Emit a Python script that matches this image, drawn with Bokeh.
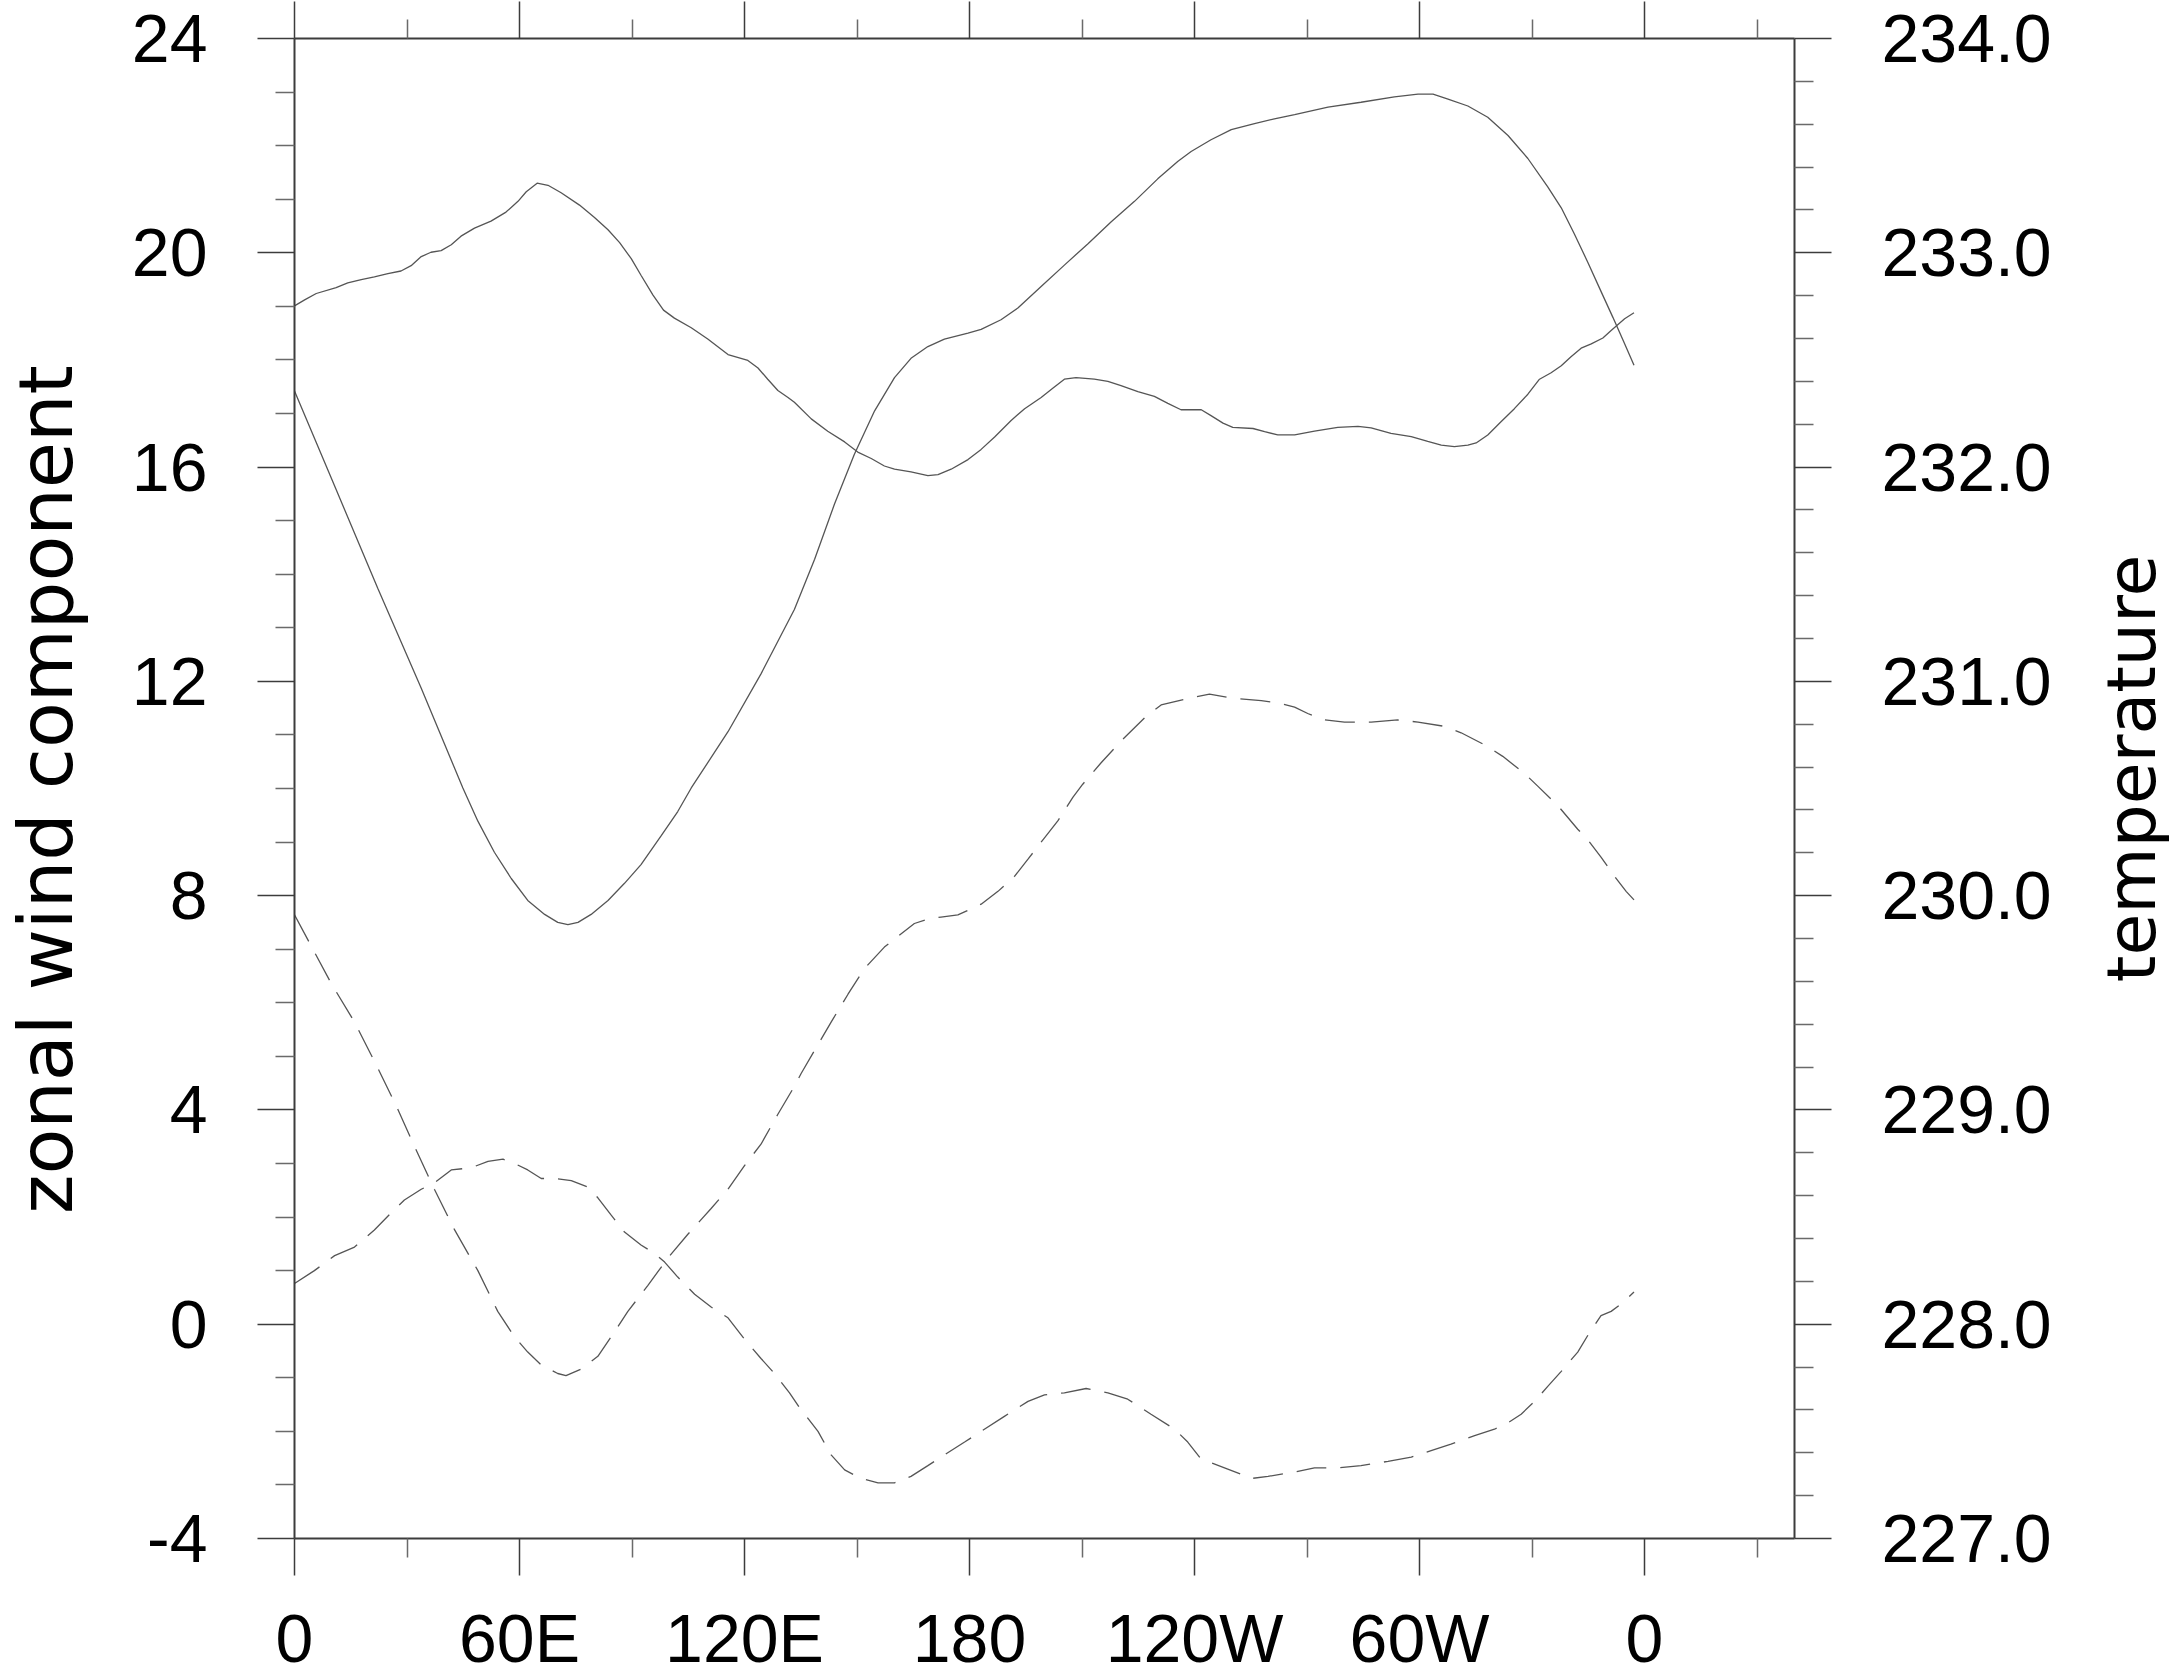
import numpy as np
from bokeh.plotting import figure
from bokeh.models import LinearAxis, Range1d, FixedTicker, Label
from bokeh.layouts import row
from bokeh.embed import file_html
from bokeh.resources import INLINE

# ---------------- data ----------------
# zonal wind, curve 1 (solid, starts near 19)
lon_u1 = [0, 2.7, 5.8, 11.1, 14.2, 17.8, 21.3, 24.9, 28.4, 31.1, 33.8, 36.4, 39.1, 41.8,
          44.4, 48.0, 52.4, 56.4, 59.6, 61.8, 64.7, 67.6, 71.1, 76.0, 80.0, 83.6, 86.7,
          89.8, 92.4, 95.6, 98.4, 101.3, 105.8, 110.2, 115.6, 120.9, 123.6, 126.2, 128.9,
          131.6, 133.3, 137.8, 142.2, 146.7, 150.2, 153.8, 157.3, 160.0, 164.4, 168.9,
          171.6, 175.1, 179.6, 183.1, 186.7, 191.1, 194.7, 199.1, 202.2, 205.3, 208.4,
          213.3, 216.9, 220.4, 224.9, 229.3, 232.9, 236.4, 241.8, 244.4, 247.6, 250.2,
          255.6, 258.7, 262.2, 266.7, 272.0, 278.2, 283.6, 287.1, 292.4, 297.8, 302.2,
          305.8, 309.3, 312.9, 315.1, 318.2, 321.8, 325.3, 328.9, 332.0, 335.1, 337.8,
          340.4, 343.1, 345.8, 348.9, 351.1, 354.7, 357.2]
u1 = [19.01, 19.12, 19.24, 19.35, 19.44, 19.50, 19.55, 19.61, 19.66, 19.76, 19.93, 20.01,
      20.04, 20.15, 20.31, 20.46, 20.59, 20.76, 20.96, 21.14, 21.30, 21.26, 21.12, 20.89,
      20.66, 20.43, 20.19, 19.89, 19.58, 19.21, 18.93, 18.78, 18.60, 18.39, 18.10, 17.99,
      17.85, 17.64, 17.43, 17.30, 17.21, 16.90, 16.67, 16.47, 16.28, 16.16, 16.02, 15.96,
      15.91, 15.84, 15.86, 15.96, 16.14, 16.33, 16.56, 16.87, 17.09, 17.30, 17.47, 17.64,
      17.67, 17.64, 17.60, 17.52, 17.41, 17.32, 17.19, 17.07, 17.07, 16.96, 16.82, 16.74,
      16.72, 16.66, 16.60, 16.60, 16.67, 16.74, 16.76, 16.73, 16.63, 16.57, 16.48, 16.41,
      16.38, 16.41, 16.45, 16.60, 16.85, 17.09, 17.36, 17.64, 17.76, 17.89, 18.06, 18.22,
      18.30, 18.41, 18.55, 18.77, 18.88]

# zonal wind, curve 2 (solid, deep minimum near 70E)
lon_u2 = [0, 11.1, 22.2, 33.8, 44.9, 48.9, 53.3, 57.8, 62.2, 66.7, 70.2, 72.9, 75.6, 79.1,
          83.6, 88.0, 92.4, 97.8, 102.2, 105.8, 115.6, 124.4, 133.3, 138.7, 144.0, 149.3,
          154.7, 160.0, 164.4, 168.9, 173.3, 179.6, 183.1, 188.4, 192.9, 199.1, 205.3,
          211.6, 217.8, 224.0, 230.2, 235.6, 239.1, 244.4, 249.8, 256.0, 261.3, 266.7,
          275.6, 284.4, 293.3, 299.6, 303.6, 307.6, 312.9, 318.2, 323.6, 328.9, 334.2,
          337.8, 341.3, 344.9, 348.4, 351.6, 354.7, 357.2]
u2 = [17.42, 15.58, 13.74, 11.87, 10.01, 9.39, 8.81, 8.32, 7.91, 7.65, 7.50, 7.46, 7.50,
      7.65, 7.91, 8.23, 8.58, 9.12, 9.57, 10.01, 11.06, 12.14, 13.34, 14.28, 15.31, 16.24,
      17.05, 17.67, 18.03, 18.25, 18.39, 18.50, 18.57, 18.75, 18.97, 19.37, 19.77, 20.17,
      20.58, 20.96, 21.38, 21.71, 21.89, 22.11, 22.30, 22.41, 22.50, 22.58, 22.72, 22.81,
      22.91, 22.96, 22.96, 22.87, 22.74, 22.53, 22.19, 21.76, 21.23, 20.84, 20.35, 19.82,
      19.28, 18.79, 18.30, 17.90]

# temperature, curve 1 (dashed, starts near 229.9)
lon_t1 = [0, 4.0, 9.8, 16.0, 21.8, 27.1, 32.0, 37.3, 42.7, 48.9, 54.2, 58.7, 62.2, 65.8,
          70.2, 72.4, 76.4, 80.9, 84.4, 88.9, 94.2, 99.6, 104.9, 111.1, 115.6, 120.0,
          124.4, 128.9, 133.3, 135.1, 139.1, 143.1, 147.6, 152.0, 157.3, 160.9, 165.3,
          168.9, 172.4, 176.9, 183.1, 187.6, 192.0, 195.6, 200.0, 203.6, 207.6, 210.2,
          215.1, 220.9, 226.7, 231.1, 238.2, 244.0, 250.7, 257.8, 262.2, 266.7, 270.2,
          274.7, 280.0, 287.1, 294.2, 299.6, 306.7, 311.1, 317.8, 322.2, 328.0, 331.6,
          336.9, 342.2, 344.9, 348.4, 352.0, 355.1, 357.2]
t1 = [229.91, 229.78, 229.59, 229.41, 229.21, 229.02, 228.83, 228.63, 228.44, 228.25,
      228.06, 227.94, 227.87, 227.81, 227.77, 227.76, 227.79, 227.85, 227.94, 228.06,
      228.18, 228.31, 228.42, 228.54, 228.63, 228.74, 228.84, 228.98, 229.11, 229.17,
      229.29, 229.41, 229.54, 229.66, 229.76, 229.81, 229.87, 229.89, 229.90, 229.91,
      229.96, 230.02, 230.09, 230.17, 230.27, 230.35, 230.46, 230.52, 230.62, 230.73,
      230.83, 230.89, 230.92, 230.94, 230.92, 230.91, 230.90, 230.88, 230.85, 230.82,
      230.81, 230.81, 230.82, 230.81, 230.79, 230.76, 230.70, 230.65, 230.57, 230.51,
      230.42, 230.31, 230.26, 230.18, 230.09, 230.02, 229.98]

# temperature, curve 2 (dashed, starts near 228.2)
lon_t2 = [0, 5.3, 10.7, 16.0, 21.3, 25.8, 29.3, 33.8, 37.3, 41.8, 47.1, 51.6, 55.6, 58.7,
          62.2, 65.8, 69.3, 73.8, 78.2, 80.9, 84.4, 88.0, 92.4, 96.0, 98.7, 102.2, 106.7,
          111.1, 115.6, 120.0, 124.4, 128.0, 132.0, 134.7, 139.6, 143.1, 146.7, 151.1,
          155.6, 160.0, 164.4, 168.9, 174.2, 178.7, 183.1, 189.3, 195.6, 200.0, 205.3,
          211.1, 216.9, 222.2, 228.4, 234.7, 238.2, 241.8, 248.0, 252.4, 255.1, 259.6,
          266.7, 272.0, 278.2, 284.4, 291.6, 297.8, 303.1, 308.4, 314.7, 320.0, 323.6,
          327.1, 330.7, 334.2, 337.8, 342.2, 345.3, 348.4, 351.1, 354.2, 357.2]
t2 = [228.19, 228.25, 228.32, 228.36, 228.44, 228.52, 228.58, 228.63, 228.66, 228.72,
      228.73, 228.76, 228.77, 228.75, 228.72, 228.68, 228.68, 228.67, 228.64, 228.59,
      228.51, 228.43, 228.37, 228.33, 228.29, 228.22, 228.14, 228.08, 228.03, 227.93,
      227.84, 227.77, 227.68, 227.61, 227.50, 227.39, 227.32, 227.28, 227.26, 227.26,
      227.29, 227.34, 227.40, 227.45, 227.50, 227.57, 227.64, 227.67, 227.68, 227.70,
      227.68, 227.65, 227.58, 227.51, 227.45, 227.37, 227.33, 227.30, 227.28, 227.29,
      227.31, 227.33, 227.33, 227.34, 227.36, 227.38, 227.41, 227.44, 227.48, 227.51,
      227.54, 227.58, 227.64, 227.71, 227.78, 227.87, 227.96, 228.04, 228.06, 228.10,
      228.15]

x_ticks = [0, 60, 120, 180, 240, 300, 360]
x_tick_labels = ["0", "60E", "120E", "180", "120W", "60W", "0"]
x_minor = [30, 90, 150, 210, 270, 330, 390]
u_ticks = [-4, 0, 4, 8, 12, 16, 20, 24]
u_tick_labels = ["-4", "0", "4", "8", "12", "16", "20", "24"]
u_minor = [v for v in range(-4, 25) if v % 4 != 0]
t_ticks = [227, 228, 229, 230, 231, 232, 233, 234]
t_tick_labels = ["227.0", "228.0", "229.0", "230.0", "231.0", "232.0", "233.0", "234.0"]
t_minor = [round(227 + 0.2 * i, 1) for i in range(36) if i % 5 != 0]

y_title_left = "zonal wind component"
y_title_right = "temperature"

# ---------------- layout constants ----------------
H = 1678
TOP_B = 38
BOT_B = 140
SIDE_W = 90                  # width of the narrow title strips
TICK_FONT = "Liberation Sans"
TITLE_FONT = "DejaVu Sans"
AX_COL = "#3c3c3c"

# ---------------- main plot ----------------
p = figure(frame_width=1500, frame_height=1500,
           x_range=Range1d(0, 400), y_range=Range1d(-4, 24),
           min_border_left=294 - SIDE_W, min_border_right=2180 - SIDE_W - 1794,
           min_border_top=TOP_B, min_border_bottom=BOT_B,
           output_backend="svg", toolbar_location=None,
           background_fill_color="white", border_fill_color="white")
p.outline_line_color = None
p.xgrid.visible = False
p.ygrid.visible = False
p.extra_y_ranges = {"temp": Range1d(227, 234)}

right = LinearAxis(y_range_name="temp")
p.add_layout(right, "right")
top = LinearAxis()
p.add_layout(top, "above")

xb = p.below[0]
yl = p.left[0]

def style(ax, major, minor, tick_out=37, minor_out=19):
    ax.ticker = FixedTicker(ticks=major, minor_ticks=minor)
    ax.axis_line_color = AX_COL
    ax.axis_line_width = 2
    ax.major_tick_line_color = AX_COL
    ax.major_tick_line_width = 1.5
    ax.minor_tick_line_color = "#6a6a6a"
    ax.minor_tick_line_width = 1.5
    ax.major_tick_in = 0
    ax.minor_tick_in = 0
    ax.major_tick_out = tick_out
    ax.minor_tick_out = minor_out
    ax.major_label_text_font = TICK_FONT
    ax.major_label_text_font_size = "68px"
    ax.major_label_text_color = "black"

style(xb, x_ticks, x_minor)
xb.major_label_overrides = {t: l for t, l in zip(x_ticks, x_tick_labels)}
xb.major_label_text_line_height = 0.85
xb.major_label_standoff = 24

style(top, x_ticks, x_minor)
top.major_label_overrides = {t: "" for t in x_ticks}
top.major_label_text_font_size = "0px"
top.major_label_standoff = 0

style(yl, u_ticks, u_minor)
yl.major_label_overrides = {t: l for t, l in zip(u_ticks, u_tick_labels)}
yl.major_label_standoff = 50

style(right, t_ticks, t_minor)
right.major_label_overrides = {t: l for t, l in zip(t_ticks, t_tick_labels)}
right.major_label_standoff = 50

LINE_COL = "#555555"
p.line(lon_u1, u1, line_color=LINE_COL, line_width=1.3)
p.line(lon_u2, u2, line_color=LINE_COL, line_width=1.3)
p.line(lon_t1, t1, y_range_name="temp", line_color=LINE_COL, line_width=1.3, line_dash="30 14")
p.line(lon_t2, t2, y_range_name="temp", line_color=LINE_COL, line_width=1.3, line_dash="30 14")

# ---------------- axis-title strips (text reads bottom-to-top on both sides) ----------------
# Each strip has the same frame geometry as the main plot; its y data value is
# (H - page y), so the title can be placed at a page position.
def title_strip(text, x_px, y_px, size):
    s = figure(frame_width=SIDE_W, frame_height=1500,
               x_range=Range1d(0, SIDE_W), y_range=Range1d(BOT_B, H - TOP_B),
               output_backend="svg", toolbar_location=None, title=None,
               x_axis_type=None, y_axis_type=None,
               min_border_left=0, min_border_right=0,
               min_border_top=TOP_B, min_border_bottom=BOT_B,
               background_fill_color="white", border_fill_color="white")
    s.outline_line_color = None
    s.add_layout(Label(x=x_px, y=H - y_px, text=text, angle=np.pi / 2,
                       text_font=TITLE_FONT, text_font_size=size, text_color="black",
                       text_align="center", text_baseline="middle",
                       text_line_height=1.0))
    return s

left_strip = title_strip(y_title_left, 45, 789, "75px")
right_strip = title_strip(y_title_right, 2131 - (2180 - SIDE_W), 768, "68px")

layout = row(left_strip, p, right_strip)
open("out.html", "w").write(file_html(layout, INLINE))
